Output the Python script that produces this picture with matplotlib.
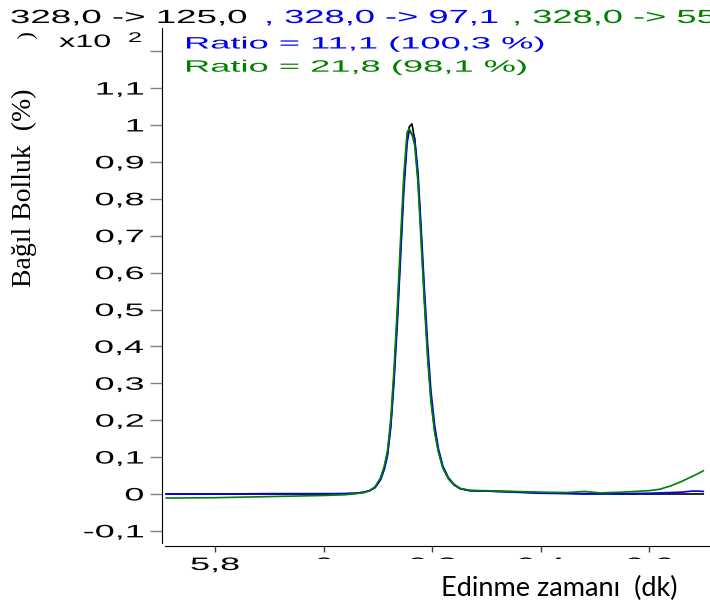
import matplotlib
matplotlib.use('Agg')
import matplotlib.pyplot as plt
from matplotlib.textpath import TextPath
from matplotlib.patches import PathPatch
from matplotlib.font_manager import FontProperties
from matplotlib.transforms import Affine2D, Bbox

# zaman (dk) ve üç iyon izinin bağıl bolluğu (x10^2 %)
t = [5.710, 5.800, 5.900, 6.000, 6.040, 6.060, 6.075, 6.085, 6.095, 6.105,
     6.112, 6.118, 6.124, 6.130, 6.136, 6.142, 6.148, 6.154, 6.158, 6.163,
     6.168, 6.174, 6.180, 6.186, 6.192, 6.198, 6.205, 6.212, 6.220, 6.230,
     6.240, 6.252, 6.270, 6.300, 6.350, 6.400, 6.450, 6.480, 6.510, 6.550,
     6.600, 6.620, 6.640, 6.660, 6.680, 6.690, 6.700]
ion_125 = [0.000, 0.000, 0.000, 0.000, 0.001, 0.002, 0.005, 0.009, 0.018, 0.040,
           0.070, 0.110, 0.190, 0.320, 0.480, 0.660, 0.840, 0.960, 0.995, 1.003,
           0.960, 0.860, 0.700, 0.530, 0.380, 0.260, 0.170, 0.115, 0.072, 0.042,
           0.025, 0.014, 0.009, 0.008, 0.006, 0.003, 0.002, 0.001, 0.001, 0.000,
           0.000, 0.000, 0.000, 0.000, 0.000, 0.000, 0.000]
ion_97 = [0.000, 0.000, 0.001, 0.001, 0.001, 0.002, 0.005, 0.009, 0.017, 0.038,
          0.066, 0.104, 0.180, 0.305, 0.460, 0.640, 0.820, 0.950, 0.985, 0.975,
          0.965, 0.875, 0.720, 0.555, 0.405, 0.280, 0.185, 0.122, 0.076, 0.045,
          0.027, 0.015, 0.009, 0.008, 0.005, 0.002, 0.001, 0.000, 0.000, 0.001,
          0.002, 0.003, 0.004, 0.005, 0.008, 0.008, 0.007]
ion_55 = [-0.011, -0.010, -0.007, -0.004, -0.002, 0.001, 0.004, 0.009, 0.020, 0.044,
          0.076, 0.118, 0.205, 0.340, 0.505, 0.690, 0.865, 0.980, 0.990, 0.975,
          0.945, 0.845, 0.680, 0.515, 0.365, 0.250, 0.165, 0.112, 0.070, 0.042,
          0.026, 0.015, 0.010, 0.009, 0.007, 0.005, 0.004, 0.007, 0.003, 0.005,
          0.009, 0.013, 0.022, 0.034, 0.048, 0.055, 0.063]

yticks = [-0.1, 0, 0.1, 0.2, 0.3, 0.4, 0.5, 0.6, 0.7, 0.8, 0.9, 1.0, 1.1, 1.2]
ytick_labels = ['-0,1', '0', '0,1', '0,2', '0,3', '0,4', '0,5', '0,6', '0,7',
                '0,8', '0,9', '1', '1,1', '']
xticks = [5.8, 6.0, 6.2, 6.4, 6.6]
xtick_labels = ['5,8', '6', '6,2', '6,4', '6,6']

W, H = 710, 608
fig = plt.figure(figsize=(W / 100, H / 100), dpi=100)
ax = fig.add_axes([165 / W, (H - 546) / H, (W - 165) / W, (546 - 28) / H])

ax.plot(t, ion_125, color='black', lw=1.2)
ax.plot(t, ion_97, color='#0000ee', lw=1.2)
ax.plot(t, ion_55, color='#008000', lw=1.2)

ax.set_xlim(5.7078, 6.7124)
ax.set_ylim(-0.1409, 1.2629)
ax.spines['top'].set_visible(False)
ax.spines['right'].set_visible(False)
ax.spines['left'].set_position(('outward', 2.2))
ax.spines['left'].set_bounds(-0.1328, 1.2629)
ax.set_yticks(yticks)
ax.set_xticks(xticks)
ax.set_yticklabels([])
ax.set_xticklabels([])
ax.tick_params(axis='y', direction='out', length=8.5, width=1, color='#808080')
ax.tick_params(axis='x', direction='out', length=4.5, width=1, color='#404040')

ARIAL = FontProperties(family='Liberation Sans')
TIMES = FontProperties(family='Liberation Serif')


def wide_text(s, x, y, size, sx, color='black', ha='left', clip=None):
    # Agilent çıktısındaki yatay gerilmiş yazı
    tp = TextPath((0, 0), s, size=size, prop=ARIAL)
    ext = tp.get_extents()
    if ha == 'right':
        x -= ext.x1 * sx
    elif ha == 'center':
        x -= (ext.x0 + ext.x1) / 2 * sx
    p = PathPatch(tp, transform=Affine2D().scale(sx, 1).translate(x, H - y),
                  fc=color, ec='none')
    if clip is not None:
        p.set_clip_box(clip)
    fig.add_artist(p)


# y ekseni etiketleri
for v, lab in zip(yticks, ytick_labels):
    if lab:
        yy = H - ax.transData.transform((6.0, v))[1]
        wide_text(lab, 143, yy + 0.716 * 18 / 2, 18, 2.0, ha='right')
wide_text('x10', 110, 47, 18, 1.8, ha='right')
wide_text('2', 128, 42, 14, 1.8)

# x ekseni etiketleri (sağdakiler kutunun altında kalıyor)
cut = Bbox.from_extents(0, H - 559, W, H)
for v, lab in zip(xticks, xtick_labels):
    xx = ax.transData.transform((v, 0))[0]
    wide_text(lab, xx, 570, 18, 2.0, ha='center', clip=None if lab == '5,8' else cut)

# başlık satırları
wide_text('328,0 -> 125,0', 10, 23, 19, 1.93, 'black')
wide_text(', 328,0 -> 97,1', 264, 23, 19, 1.91, '#0000ee')
wide_text(', 328,0 -> 55,0', 512, 23, 19, 1.91, '#008000')
wide_text('Ratio = 11,1 (100,3 %)', 184, 48.5, 16.5, 2.2, '#0000ee')
wide_text('Ratio = 21,8 (98,1 %)', 184, 71.7, 16.5, 2.2, '#008000')

# sol üstte kesik kalmış yatık parantez
arc = TextPath((0, 0), ')', size=22, prop=TIMES)
ae = arc.get_extents()
arc_tr = (Affine2D().translate(-(ae.x0 + ae.x1) / 2, -(ae.y0 + ae.y1) / 2)
          .rotate_deg(90).translate(27, H - 36))
fig.add_artist(PathPatch(arc, transform=arc_tr, fc='black', ec='none'))

fig.text(24 / W, 1 - 188 / H, 'Bağıl Bolluk  (%)', rotation=90,
         family='Liberation Serif', fontsize=20, ha='center', va='center')
fig.text(559 / W, 1 - 588 / H, 'Edinme zamanı  (dk)', family='Lato',
         fontsize=19.5, ha='center', va='center')

fig.savefig('out.png', dpi=100)
